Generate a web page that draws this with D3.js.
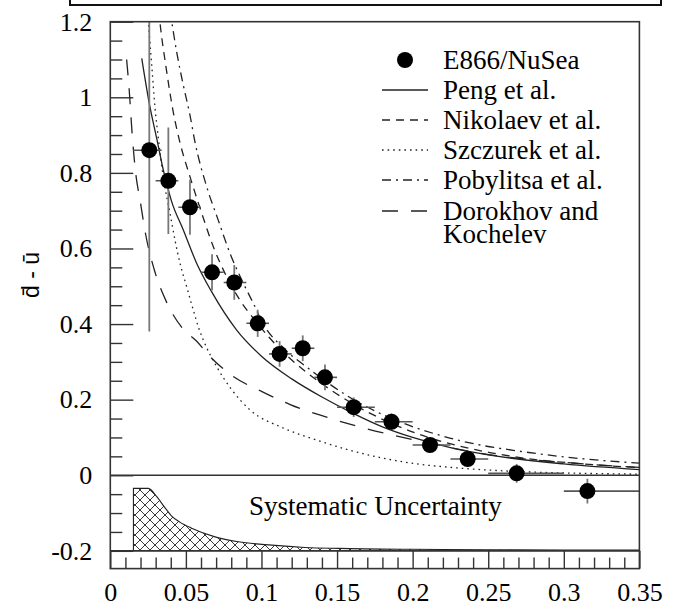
<!DOCTYPE html>
<html><head><meta charset="utf-8">
<script src="https://cdn.jsdelivr.net/npm/d3@7"></script>
<style>body{margin:0;background:#fff}</style></head>
<body>
<svg id="c" width="673" height="614"></svg>
<script>
// ---- data ----
const dataX  = [0.0258, 0.0384, 0.0527, 0.0673, 0.082, 0.0975, 0.112, 0.1273, 0.142, 0.161, 0.186, 0.2115, 0.2364, 0.2688, 0.3156];
const dataY  = [0.860, 0.779, 0.709, 0.537, 0.510, 0.402, 0.321, 0.336, 0.259, 0.180, 0.1415, 0.080, 0.043, 0.005, -0.042];
const dataYErr = [0.48, 0.141, 0.073, 0.048, 0.046, 0.036, 0.034, 0.034, 0.034, 0.026, 0.022, 0.02, 0.02, 0.025, 0.033];
const dataXLo = [0.015, 0.030, 0.045, 0.060, 0.075, 0.090, 0.105, 0.120, 0.135, 0.150, 0.175, 0.200, 0.225, 0.250, 0.300];
const dataXHi = [0.034, 0.045, 0.060, 0.075, 0.090, 0.105, 0.120, 0.135, 0.150, 0.175, 0.200, 0.225, 0.250, 0.300, 0.350];

const pengX = [0.0208, 0.0255, 0.0307, 0.0351, 0.0406, 0.0483, 0.0571, 0.0671, 0.0836, 0.1, 0.12, 0.14, 0.16, 0.18, 0.2, 0.225, 0.25, 0.3, 0.35];
const pengY = [1.103, 0.99, 0.891, 0.807, 0.724, 0.649, 0.561, 0.485, 0.384, 0.315, 0.255, 0.207, 0.165, 0.128, 0.100, 0.073, 0.054, 0.030, 0.015];

const nikX = [0.032, 0.0329, 0.037, 0.0416, 0.0461, 0.0527, 0.0605, 0.0681, 0.077, 0.0858, 0.0957, 0.105, 0.12, 0.14, 0.16, 0.18, 0.203, 0.228, 0.251, 0.28, 0.313, 0.35];
const nikY = [1.23, 1.196, 1.076, 0.962, 0.880, 0.790, 0.693, 0.605, 0.525, 0.463, 0.41, 0.365, 0.305, 0.242, 0.19, 0.148, 0.11, 0.08, 0.06, 0.042, 0.03, 0.02];

const szcX = [0.024, 0.0252, 0.0274, 0.0296, 0.0318, 0.035, 0.0395, 0.0428, 0.0461, 0.0505, 0.0549, 0.0582, 0.0615, 0.0704, 0.08, 0.0924, 0.1144, 0.1365, 0.1586, 0.1806, 0.2027, 0.2247, 0.2688, 0.313, 0.35];
const szcY = [1.25, 1.196, 1.085, 0.971, 0.891, 0.79, 0.693, 0.622, 0.561, 0.499, 0.437, 0.393, 0.358, 0.287, 0.228, 0.173, 0.125, 0.093, 0.066, 0.045, 0.030, 0.021, 0.010, 0.005, 0.003];

const pobX = [0.0395, 0.0439, 0.0483, 0.0527, 0.056, 0.0638, 0.0714, 0.0792, 0.088, 0.0946, 0.1012, 0.115, 0.131, 0.156, 0.185, 0.216, 0.2446, 0.2666, 0.3063, 0.35];
const pobY = [1.23, 1.12, 1.032, 0.953, 0.882, 0.763, 0.675, 0.587, 0.508, 0.455, 0.40, 0.335, 0.283, 0.212, 0.152, 0.108, 0.080, 0.066, 0.046, 0.032];

const dorX = [0.0108, 0.0125, 0.0145, 0.0165, 0.02, 0.0235, 0.029, 0.037, 0.0475, 0.057, 0.066, 0.08, 0.1, 0.119, 0.142, 0.163, 0.206, 0.255, 0.3, 0.35];
const dorY = [1.1, 1.02, 0.9, 0.81, 0.72, 0.635, 0.545, 0.46, 0.39, 0.355, 0.314, 0.265, 0.222, 0.187, 0.155, 0.13, 0.089, 0.052, 0.034, 0.021];

const sysX   = [0.0153, 0.0252, 0.031, 0.036, 0.0406, 0.046, 0.0538, 0.0693, 0.0847, 0.1068, 0.1288, 0.1509, 0.2, 0.25, 0.3, 0.35];
const sysTop = [-0.0347, -0.0347, -0.058, -0.085, -0.108, -0.124, -0.14, -0.163, -0.176, -0.185, -0.191, -0.1935, -0.196, -0.197, -0.198, -0.198];
const sysBase = -0.2;

const xMajorTicks = [0, 0.05, 0.1, 0.15, 0.2, 0.25, 0.3, 0.35];
const xTickLabels = ["0", "0.05", "0.1", "0.15", "0.2", "0.25", "0.3", "0.35"];
const yMajorTicks = [-0.2, 0, 0.2, 0.4, 0.6, 0.8, 1.0, 1.2];
const yTickLabels = ["-0.2", "0", "0.2", "0.4", "0.6", "0.8", "1", "1.2"];
const legendLabels = ["E866/NuSea", "Peng et al.", "Nikolaev et al.", "Szczurek et al.", "Pobylitsa et al.", "Dorokhov and"];
const legendExtra = "Kochelev";

// ---- layout ----
const svg = d3.select("#c");
const L = 110.3, R = 639.4, T = 21.7, B = 568.6;
const x = d3.scaleLinear().domain([0, 0.35]).range([L, R]);
const y = d3.scaleLinear().domain([-0.247, 1.2]).range([B, T]);
const serif = "'Liberation Serif','Times New Roman',serif";
const ink = "#333";

// top caption box remnant
svg.append("rect").attr("x", 70).attr("y", -10).attr("width", 591).attr("height", 15)
  .attr("fill", "none").attr("stroke", "#111").attr("stroke-width", 2);

const defs = svg.append("defs");
defs.append("clipPath").attr("id", "plotclip").append("rect")
  .attr("x", L).attr("y", T).attr("width", R - L).attr("height", B - T);
const pat = defs.append("pattern").attr("id", "hatch").attr("patternUnits", "userSpaceOnUse")
  .attr("width", 10).attr("height", 10);
pat.append("path").attr("d", "M0,0L10,10M10,0L0,10M-1,9L1,11M9,-1L11,1")
  .attr("stroke", "#222").attr("stroke-width", 0.9).attr("fill", "none");

// systematic band
const sysData = sysX.map((v, i) => ({x: v, t: sysTop[i]}));
const area = d3.area().x(d => x(d.x)).y0(y(sysBase)).y1(d => y(d.t)).curve(d3.curveMonotoneX);
svg.append("path").datum(sysData).attr("d", area)
  .attr("fill", "url(#hatch)").attr("stroke", "#222").attr("stroke-width", 1.1);

// zero and -0.2 lines
[0, -0.2].forEach(v => {
  svg.append("line").attr("x1", L).attr("x2", R).attr("y1", y(v)).attr("y2", y(v))
    .attr("stroke", ink).attr("stroke-width", 1.5);
});

// y axis ticks
const yMinor = d3.range(-0.15, 1.2001, 0.05).filter(v => Math.abs(Math.round(v / 0.2) * 0.2 - v) > 1e-6);
const yMinorAxis = d3.axisLeft(y).tickValues(yMinor).tickSizeInner(-12).tickSizeOuter(0).tickFormat("");
svg.append("g").attr("transform", `translate(${L},0)`).call(yMinorAxis)
  .call(g => g.select(".domain").remove())
  .selectAll("line").attr("stroke", ink).attr("stroke-width", 1.4);
const yAxis = d3.axisLeft(y).tickValues(yMajorTicks).tickSizeInner(-23).tickSizeOuter(0).tickPadding(18)
  .tickFormat((d, i) => yTickLabels[i]);
const gy = svg.append("g").attr("transform", `translate(${L},0)`).call(yAxis);
gy.select(".domain").remove();
gy.selectAll("line").attr("stroke", ink).attr("stroke-width", 1.4);
gy.selectAll("text").attr("font-family", serif).attr("font-size", 26).attr("fill", "#000");

// x axis ticks
const xMinor = d3.range(0.01, 0.35, 0.01).filter(v => Math.abs(Math.round(v / 0.05) * 0.05 - v) > 1e-6);
const xMinorAxis = d3.axisBottom(x).tickValues(xMinor).tickSizeInner(-11).tickSizeOuter(0).tickFormat("");
svg.append("g").attr("transform", `translate(0,${B})`).call(xMinorAxis)
  .call(g => g.select(".domain").remove())
  .selectAll("line").attr("stroke", ink).attr("stroke-width", 1.4);
const xAxis = d3.axisBottom(x).tickValues(xMajorTicks).tickSizeInner(-(B - y(-0.2))).tickSizeOuter(0).tickPadding(14)
  .tickFormat((d, i) => xTickLabels[i]);
const gx = svg.append("g").attr("transform", `translate(0,${B})`).call(xAxis);
gx.select(".domain").remove();
gx.selectAll("line").attr("stroke", ink).attr("stroke-width", 1.4);
gx.selectAll("text").attr("font-family", serif).attr("font-size", 26).attr("fill", "#000");

// curves
const curves = [
  {xs: pengX, ys: pengY, dash: null},
  {xs: nikX, ys: nikY, dash: "8,6"},
  {xs: szcX, ys: szcY, dash: "1.6,4"},
  {xs: pobX, ys: pobY, dash: "9,5,2,5"},
  {xs: dorX, ys: dorY, dash: "16,13"}
];
const line = d3.line().x(d => x(d[0])).y(d => y(d[1])).curve(d3.curveMonotoneX);
const gc = svg.append("g").attr("clip-path", "url(#plotclip)");
curves.forEach(c => {
  gc.append("path").datum(c.xs.map((v, i) => [v, c.ys[i]])).attr("d", line)
    .attr("fill", "none").attr("stroke", "#222").attr("stroke-width", 1.3)
    .attr("stroke-dasharray", c.dash);
});

// data points
const pts = dataX.map((v, i) => ({x: v, y: dataY[i], e: dataYErr[i], lo: dataXLo[i], hi: dataXHi[i]}));
const gp = svg.append("g").attr("clip-path", "url(#plotclip)");
gp.selectAll(".ve").data(pts).join("line")
  .attr("x1", d => x(d.x)).attr("x2", d => x(d.x))
  .attr("y1", d => y(d.y - d.e)).attr("y2", d => y(d.y + d.e))
  .attr("stroke", "#777").attr("stroke-width", 1.8);
gp.selectAll(".he").data(pts).join("line")
  .attr("x1", d => x(d.lo)).attr("x2", d => x(d.hi))
  .attr("y1", d => y(d.y)).attr("y2", d => y(d.y))
  .attr("stroke", "#555").attr("stroke-width", 1.6);
gp.selectAll("circle").data(pts).join("circle")
  .attr("cx", d => x(d.x)).attr("cy", d => y(d.y)).attr("r", 8).attr("fill", "#000");

// frame
svg.append("rect").attr("x", L).attr("y", T).attr("width", R - L).attr("height", B - T)
  .attr("fill", "none").attr("stroke", ink).attr("stroke-width", 1.6);

// legend
const legBase = [69, 99, 129, 159, 189, 220];
const lg = svg.append("g");
legendLabels.forEach((lab, i) => {
  const t = lg.append("text").attr("x", 443).attr("y", legBase[i])
    .attr("font-family", serif).attr("font-size", 27).attr("fill", "#000");
  t.append("tspan").attr("x", 443).text(lab);
  if (i === legendLabels.length - 1) {
    t.append("tspan").attr("x", 443).attr("dy", 23).text(legendExtra);
  }
  if (i === 0) {
    lg.append("circle").attr("cx", 405).attr("cy", legBase[i] - 9).attr("r", 8).attr("fill", "#000");
  } else {
    lg.append("line").attr("x1", 382).attr("x2", 428).attr("y1", legBase[i] - 9).attr("y2", legBase[i] - 9)
      .attr("stroke", "#222").attr("stroke-width", 1.3).attr("stroke-dasharray", curves[i - 1].dash);
  }
});

// systematic label
svg.append("text").attr("x", 249).attr("y", 515).text("Systematic Uncertainty")
  .attr("font-family", serif).attr("font-size", 27).attr("fill", "#000");

// y axis label
svg.append("text").attr("transform", "translate(39,275) rotate(-90)")
  .attr("text-anchor", "middle").text("d\u0304 - \u016B")
  .attr("font-family", "'Liberation Sans',Arial,sans-serif").attr("font-size", 23).attr("fill", "#000");
</script>
</body></html>
